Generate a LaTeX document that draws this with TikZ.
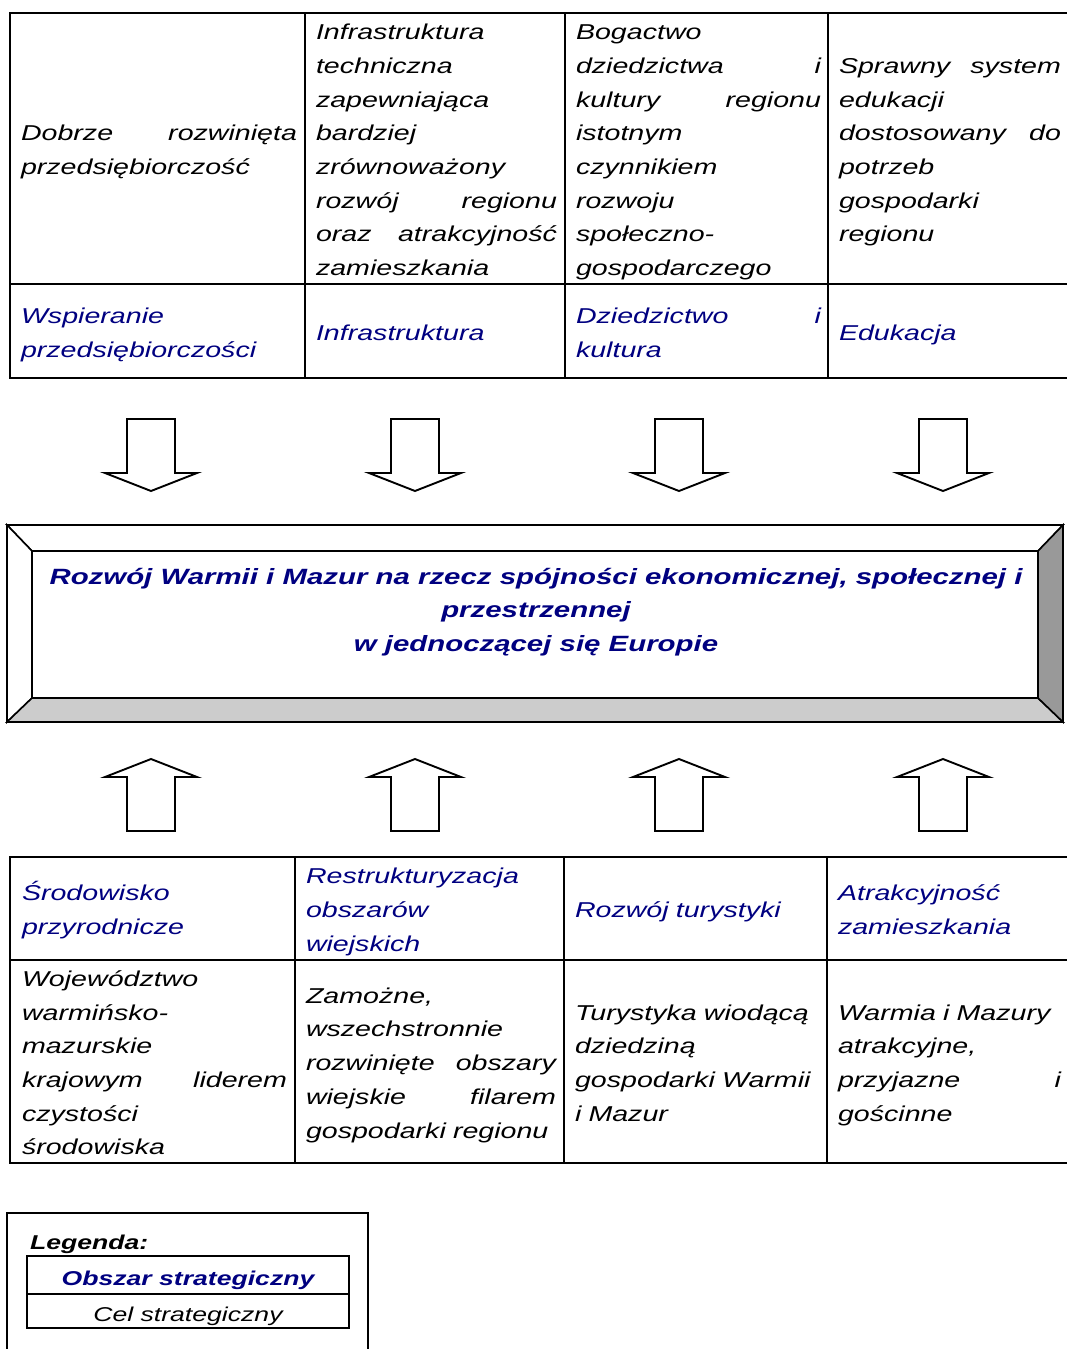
\documentclass[tikz,border=0pt]{standalone}
\usepackage{fontspec}
\newfontfamily\af{Liberation Sans}[FakeStretch=1.33]
\definecolor{navyblue}{RGB}{0,0,128}
\setlength\parindent{0pt}
\setlength\parskip{0pt}
\newcommand\mystrut{\rule[-7.7pt]{0pt}{33.7pt}}
\newcommand\cellfont{\af\fontsize{21.5pt}{33.7pt}\selectfont\itshape}
\newcommand\goalfont{\af\fontsize{22.1pt}{33.7pt}\selectfont\bfseries\itshape}
\newcommand\legfont{\af\fontsize{20pt}{24pt}\selectfont}
\begin{document}
\begin{tikzpicture}[x=1pt,y=-1pt,line width=2pt,
  cell/.style={anchor=west,inner sep=0pt,text width=#1,align=left,font=\cellfont},
  goaltext/.style={cell=#1,text=black},
  areatext/.style={cell=#1,text=navyblue},
  blockarrow/.style={draw,fill=white,line width=1.9pt,line join=miter},
  bevel/.style={draw,line width=1.6pt,line join=miter}]
\useasboundingbox (0,0) rectangle (1067,1349);

% ---------- top table ----------
\draw (1067,13) -- (10,13) -- (10,378) -- (1067,378);
\draw (10,284) -- (1067,284);
\foreach \xx in {305,565,828} \draw (\xx,13) -- (\xx,378);

\node[goaltext=276pt] (t1) at (20,148.5) {\mystrut Dobrze\hfill rozwinięta\\przedsiębiorczość\mystrut};
\node[goaltext=241pt] (t2) at (315,148.5) {\mystrut Infrastruktura\\techniczna\\zapewniająca\\bardziej\\zrównoważony\\rozwój\hfill regionu\\oraz\hfill atrakcyjność\\zamieszkania\mystrut};
\node[goaltext=245pt] (t3) at (575,148.5) {\mystrut Bogactwo\\dziedzictwa\hfill i\\kultury\hfill regionu\\istotnym\\czynnikiem\\rozwoju\\społeczno-\\gospodarczego\mystrut};
\node[goaltext=222pt] (t4) at (838,148.5) {\mystrut Sprawny\hfill system\\edukacji\\dostosowany\hfill do\\potrzeb\\gospodarki\\regionu\mystrut};

\node[areatext=276pt] (a1) at (20,331) {\mystrut Wspieranie\\przedsiębiorczości\mystrut};
\node[areatext=241pt] (a2) at (315,331) {\mystrut Infrastruktura\mystrut};
\node[areatext=245pt] (a3) at (575,331) {\mystrut Dziedzictwo\hfill i\\kultura\mystrut};
\node[areatext=222pt] (a4) at (838,331) {\mystrut Edukacja\mystrut};

% ---------- arrows ----------
\foreach \c in {151,415,679,943} {
  \draw[blockarrow] (\c-24,419) -- (\c+24,419) -- (\c+24,473) -- (\c+46,473)
     -- (\c,491) -- (\c-46,473) -- (\c-24,473) -- cycle;
  \draw[blockarrow] (\c-24,831) -- (\c+24,831) -- (\c+24,777) -- (\c+46,777)
     -- (\c,759) -- (\c-46,777) -- (\c-24,777) -- cycle;
}

% ---------- central bevel box ----------
\fill[white] (7,525) rectangle (1063,722);
\filldraw[bevel,fill=white] (7,525) -- (1063,525) -- (1038,551) -- (32,551) -- cycle;
\filldraw[bevel,fill=white] (7,525) -- (32,551) -- (32,698) -- (7,722) -- cycle;
\filldraw[bevel,fill=black!20] (7,722) -- (32,698) -- (1038,698) -- (1063,722) -- cycle;
\filldraw[bevel,fill=black!40] (1063,525) -- (1038,551) -- (1038,698) -- (1063,722) -- cycle;
\draw[line width=2pt] (7,525) rectangle (1063,722);
\node[anchor=north,inner sep=0pt,align=center,font=\goalfont,text=navyblue] (goal) at (536,557)
  {\mystrut Rozwój Warmii i Mazur na rzecz spójności ekonomicznej, społecznej i\\przestrzennej\\w jednoczącej się Europie\mystrut};

% ---------- bottom table ----------
\draw (1067,857) -- (10,857) -- (10,1163) -- (1067,1163);
\draw (10,960) -- (1067,960);
\foreach \xx in {295,564,827} \draw (\xx,857) -- (\xx,1163);

\node[areatext=265pt] (b1) at (21,908.5) {\mystrut Środowisko\\przyrodnicze\mystrut};
\node[areatext=250pt] (b2) at (305,908.5) {\mystrut Restrukturyzacja\\obszarów\\wiejskich\mystrut};
\node[areatext=245pt] (b3) at (574,908.5) {\mystrut Rozwój turystyki\mystrut};
\node[areatext=223pt] (b4) at (837,908.5) {\mystrut Atrakcyjność\\zamieszkania\mystrut};

\node[goaltext=265pt] (c1) at (21,1061.5) {\mystrut Województwo\\warmińsko-\\mazurskie\\krajowym\hfill liderem\\czystości\\środowiska\mystrut};
\node[goaltext=250pt] (c2) at (305,1061.5) {\mystrut Zamożne,\\wszechstronnie\\rozwinięte\hfill obszary\\wiejskie\hfill filarem\\gospodarki regionu\mystrut};
\node[goaltext=245pt] (c3) at (574,1061.5) {\mystrut Turystyka wiodącą\\dziedziną\\gospodarki Warmii\\i Mazur\mystrut};
\node[goaltext=223pt] (c4) at (837,1061.5) {\mystrut Warmia i Mazury\\atrakcyjne,\\przyjazne\hfill i\\gościnne\mystrut};

% ---------- legend ----------
\draw[line width=1.6pt] (7,1349) -- (7,1213) -- (368,1213) -- (368,1349);
\draw (27,1256) rectangle (349,1328);
\draw (27,1294) -- (349,1294);
\node[anchor=base west,inner sep=0pt,font=\legfont\bfseries\itshape] (leg) at (29,1249) {Legenda:};
\node[anchor=base,inner sep=0pt,font=\legfont\bfseries\itshape,text=navyblue] (legarea) at (188,1285) {Obszar strategiczny};
\node[anchor=base,inner sep=0pt,font=\legfont\itshape] (leggoal) at (188,1321) {Cel strategiczny};
\end{tikzpicture}
\end{document}
